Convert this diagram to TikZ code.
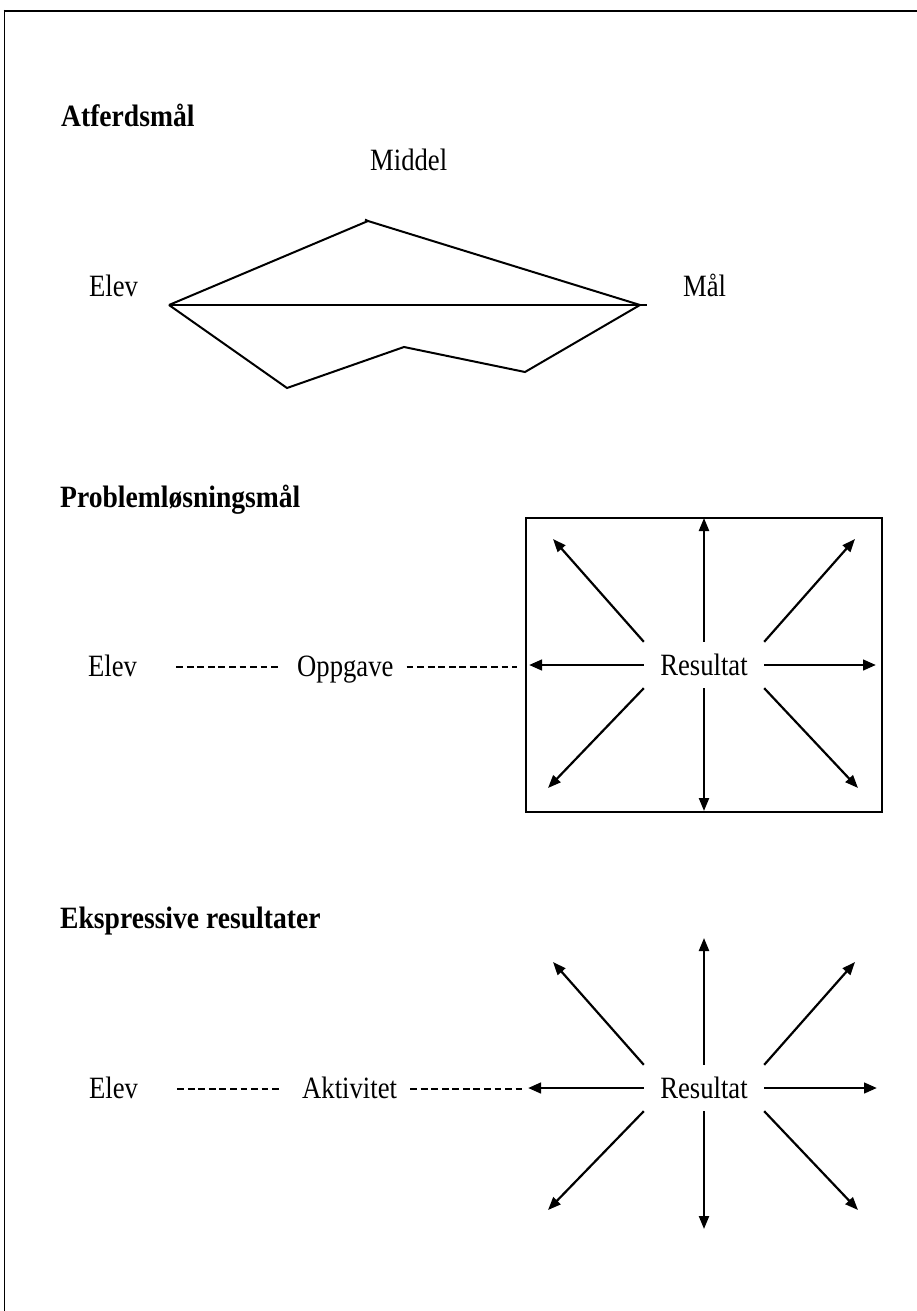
\documentclass[tikz,border=0pt]{standalone}
\usepackage{fontspec}
\setmainfont{Liberation Serif}[FakeStretch=0.86, BoldFeatures={FakeStretch=0.89}]
\usetikzlibrary{arrows.meta}
\begin{document}
\begin{tikzpicture}[x=1pt,y=-1pt,
  lbl/.style={inner sep=0pt, anchor=base west, font=\fontsize{31}{37}\selectfont},
  head/.style={inner sep=0pt, anchor=base west, font=\fontsize{31}{37}\selectfont\bfseries},
  edgeline/.style={line width=2pt},
  ray/.style={line width=2.2pt, -{Triangle[length=13pt,width=10pt]}},
  hray/.style={line width=2.8pt, -{Triangle[length=13pt,width=10.5pt]}},
  dots/.style={line width=1.7pt, dash pattern=on 6.8pt off 3.75pt},
  resbox/.style={inner sep=0pt, minimum width=120pt, minimum height=46pt,
                 font=\fontsize{31}{37}\selectfont},
  framebox/.style={draw, line width=2.5pt, inner sep=0pt, outer sep=0pt,
                   minimum width=356pt, minimum height=294pt}
]
\useasboundingbox (0,0) rectangle (917,1311);

% page frame
\draw[line width=2pt] (3.5,11) -- (917,11);
\draw[line width=1.5pt] (4.3,10) -- (4.3,1311);

% ---------- Atferdsmål ----------
\node[head] (h1) at (61,127) {Atferdsmål};
\node[lbl] (middel) at (370,170) {Middel};
\node[lbl] (elev1) at (89,296) {Elev};
\node[lbl] (maal) at (683,296) {Mål};

\coordinate (pl) at (169,305);
\coordinate (pt) at (368,221);
\coordinate (pr) at (640,305);
\coordinate (pe) at (647,305);
\coordinate (pb1) at (287,388);
\coordinate (pb2) at (404,347);
\coordinate (pb3) at (525,372);
\draw[edgeline] (pl) -- (pt) -- (pr);
\draw[edgeline] (365,219.5) -- (pt);
\draw[edgeline] (pl) -- (pe);
\draw[edgeline] (pl) -- (pb1) -- (pb2) -- (pb3) -- (pr);

% ---------- Problemløsningsmål ----------
\node[head] (h2) at (60,507) {Problemløsningsmål};
\node[lbl] (elev2) at (88,676) {Elev};
\node[lbl] (task) at (297,676) {Oppgave};
\node[framebox] (box) at (704,665) {};
\node[resbox] (res2) at (704,665) {Resultat};

\draw[dots] ([shift={(39,-9)}]elev2.base east) -- ([shift={(-19,-9)}]task.base west);
\draw[dots] ([shift={(13,-9)}]task.base east) -- ([shift={(-9,2)}]box.west);

\coordinate (u2) at (704,518);
\coordinate (d2) at (704,811);
\coordinate (l2) at (529,665);
\coordinate (r2) at (876,665);
\coordinate (ul2) at (553,539);
\coordinate (ur2) at (855,539);
\coordinate (dl2) at (548,788);
\coordinate (dr2) at (858,788);
\draw[ray] (res2.north) -- (u2);
\draw[ray] (res2.south) -- (d2);
\draw[hray] (res2.west) -- (l2);
\draw[hray] (res2.east) -- (r2);
\draw[ray] (res2.north west) -- (ul2);
\draw[ray] (res2.north east) -- (ur2);
\draw[ray] (res2.south west) -- (dl2);
\draw[ray] (res2.south east) -- (dr2);

% ---------- Ekspressive resultater ----------
\node[head] (h3) at (60,928) {Ekspressive resultater};
\node[lbl] (elev3) at (89,1098) {Elev};
\node[lbl] (act) at (302,1098) {Aktivitet};
\node[resbox] (res3) at (704,1088) {Resultat};

\coordinate (u3) at (704,938);
\coordinate (d3) at (704,1229);
\coordinate (l3) at (528,1088);
\coordinate (r3) at (877,1088);
\coordinate (ul3) at (553,962);
\coordinate (ur3) at (855,962);
\coordinate (dl3) at (548,1210);
\coordinate (dr3) at (858,1210);

\draw[dots] ([shift={(39,-9)}]elev3.base east) -- ([shift={(-20,-9)}]act.base west);
\draw[dots] ([shift={(13,-9)}]act.base east) -- ([shift={(-6,1)}]l3);

\draw[ray] (res3.north) -- (u3);
\draw[ray] (res3.south) -- (d3);
\draw[hray] (res3.west) -- (l3);
\draw[hray] (res3.east) -- (r3);
\draw[ray] (res3.north west) -- (ul3);
\draw[ray] (res3.north east) -- (ur3);
\draw[ray] (res3.south west) -- (dl3);
\draw[ray] (res3.south east) -- (dr3);
\end{tikzpicture}
\end{document}
